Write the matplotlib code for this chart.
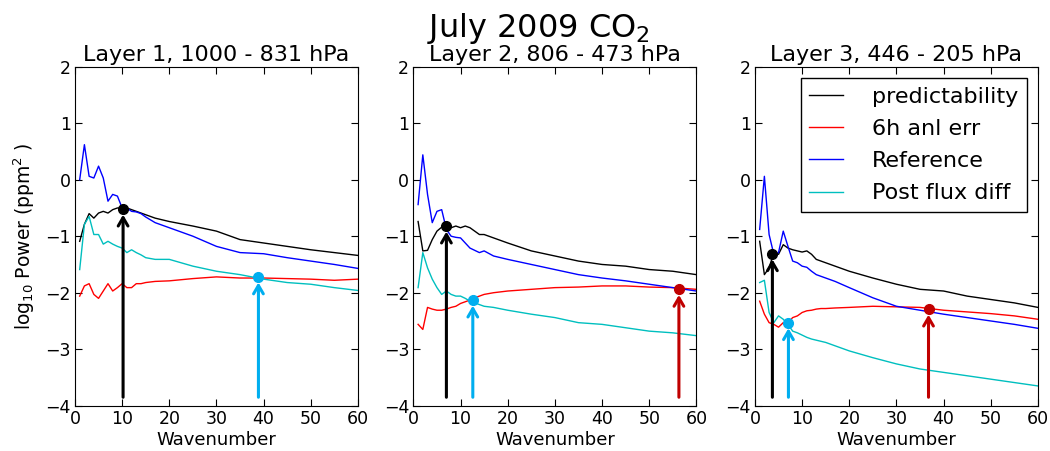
import numpy as np
import matplotlib
matplotlib.use("Agg")
import matplotlib.pyplot as plt

wn = [1, 2, 3, 4, 5, 6, 7, 8, 9, 10, 11, 12, 13, 14, 15, 17, 20, 25, 30, 35, 40, 45, 50, 55, 60]

# Layer 1
l1_pred = [-1.09, -0.79, -0.60, -0.68, -0.59, -0.56, -0.59, -0.53, -0.50, -0.50, -0.50, -0.53, -0.56, -0.59, -0.62, -0.68, -0.74, -0.82, -0.91, -1.06, -1.12, -1.18, -1.24, -1.29, -1.34]
l1_anl = [-2.06, -1.88, -1.84, -2.03, -2.10, -1.97, -1.84, -1.97, -1.91, -1.84, -1.91, -1.91, -1.84, -1.84, -1.82, -1.80, -1.79, -1.75, -1.72, -1.74, -1.74, -1.75, -1.76, -1.78, -1.76]
l1_ref = [0.00, 0.62, 0.06, 0.03, 0.24, 0.03, -0.38, -0.26, -0.29, -0.50, -0.50, -0.56, -0.57, -0.60, -0.66, -0.76, -0.85, -1.00, -1.18, -1.29, -1.31, -1.38, -1.44, -1.50, -1.57]
l1_post = [-1.59, -0.79, -0.65, -0.97, -0.97, -1.14, -1.09, -1.14, -1.18, -1.21, -1.29, -1.24, -1.29, -1.33, -1.38, -1.41, -1.41, -1.53, -1.62, -1.68, -1.76, -1.82, -1.85, -1.91, -1.96]

# Layer 2
l2_pred = [-0.74, -1.26, -1.25, -1.06, -0.91, -0.84, -0.82, -0.85, -0.82, -0.85, -0.82, -0.85, -0.91, -0.97, -0.97, -1.03, -1.12, -1.26, -1.35, -1.44, -1.50, -1.53, -1.59, -1.62, -1.68]
l2_anl = [-2.56, -2.65, -2.26, -2.29, -2.31, -2.31, -2.29, -2.26, -2.24, -2.19, -2.16, -2.13, -2.09, -2.06, -2.03, -2.00, -1.97, -1.94, -1.91, -1.90, -1.88, -1.88, -1.90, -1.91, -1.94]
l2_ref = [-0.44, 0.44, -0.26, -0.76, -0.56, -0.53, -0.88, -1.00, -1.02, -1.03, -1.12, -1.21, -1.25, -1.29, -1.26, -1.35, -1.41, -1.50, -1.59, -1.68, -1.74, -1.79, -1.85, -1.91, -1.97]
l2_post = [-1.91, -1.29, -1.56, -1.76, -1.91, -2.03, -1.97, -2.03, -2.06, -2.06, -2.10, -2.15, -2.18, -2.21, -2.24, -2.26, -2.31, -2.38, -2.44, -2.53, -2.56, -2.62, -2.68, -2.71, -2.76]

# Layer 3
l3_pred = [-1.09, -1.68, -1.56, -1.29, -1.32, -1.15, -1.21, -1.24, -1.26, -1.28, -1.26, -1.32, -1.41, -1.44, -1.47, -1.53, -1.62, -1.74, -1.85, -1.94, -1.97, -2.06, -2.12, -2.18, -2.26]
l3_anl = [-2.15, -2.38, -2.53, -2.56, -2.61, -2.53, -2.53, -2.44, -2.41, -2.35, -2.32, -2.31, -2.29, -2.28, -2.28, -2.27, -2.26, -2.24, -2.25, -2.26, -2.31, -2.34, -2.37, -2.41, -2.47]
l3_ref = [-0.88, 0.06, -0.97, -1.32, -1.29, -0.91, -1.18, -1.44, -1.47, -1.53, -1.55, -1.62, -1.68, -1.71, -1.74, -1.80, -1.91, -2.09, -2.24, -2.31, -2.38, -2.44, -2.50, -2.56, -2.63]
l3_post = [-1.82, -1.78, -2.35, -2.53, -2.41, -2.47, -2.56, -2.68, -2.71, -2.75, -2.79, -2.82, -2.84, -2.86, -2.88, -2.94, -3.03, -3.15, -3.26, -3.35, -3.41, -3.47, -3.53, -3.59, -3.65]

# Marked crossing points (x, y, colour) per layer
marks_x = [[10.2, 38.9], [7.0, 12.6, 56.3], [3.7, 7.1, 36.8]]
marks_y = [[-0.52, -1.72], [-0.82, -2.13, -1.94], [-1.31, -2.53, -2.29]]
marks_c = [["black", "#00AEEF"], ["black", "#00AEEF", "#C00000"], ["black", "#00AEEF", "#C00000"]]

titles = ["Layer 1, 1000 - 831 hPa", "Layer 2, 806 - 473 hPa", "Layer 3, 446 - 205 hPa"]
labels = ["predictability", "6h anl err", "Reference", "Post flux diff"]
colors = ["k", "r", "b", "c"]
data = [[l1_pred, l1_anl, l1_ref, l1_post],
        [l2_pred, l2_anl, l2_ref, l2_post],
        [l3_pred, l3_anl, l3_ref, l3_post]]

fig = plt.figure(figsize=(10.5, 4.51), dpi=100)
lefts = [0.0714, 0.3937, 0.719]
width = 0.2695
bottom = 0.1004
height = 0.7517

for i in range(3):
    ax = fig.add_axes([lefts[i], bottom, width, height])
    for series, c, lab in zip(data[i], colors, labels):
        ax.plot(wn, series, color=c, lw=1.0, label=lab)
    for mx, my, mc in zip(marks_x[i], marks_y[i], marks_c[i]):
        ax.annotate("", xy=(mx, my), xytext=(mx, -3.85),
                    arrowprops=dict(arrowstyle="->,head_length=0.6,head_width=0.35",
                                    color=mc, lw=2.2, shrinkA=0, shrinkB=4))
        ax.plot([mx], [my], "o", color=mc, markersize=7, zorder=5)
    ax.set_xlim(0, 60)
    ax.set_ylim(-4, 2)
    ax.set_xticks([0, 10, 20, 30, 40, 50, 60])
    ax.set_yticks([-4, -3, -2, -1, 0, 1, 2])
    ax.tick_params(direction="in", top=True, right=True, labelsize=12.5, length=5, pad=3)
    ax.set_title(titles[i], fontsize=16, pad=4)
    ax.set_xlabel("Wavenumber", fontsize=13, labelpad=2)
    if i == 0:
        ax.set_ylabel(r"log$_{10}$ Power (ppm$^2$ )", fontsize=13.5, labelpad=6)
    if i == 2:
        leg = ax.legend(loc="upper right", fontsize=16, handlelength=1.5,
                        fancybox=False, framealpha=1, borderpad=0.4,
                        handletextpad=1.3, labelspacing=0.55, borderaxespad=0.5)
        leg.get_frame().set_edgecolor("black")

fig.text(0.513, 0.975, r"July 2009 CO$_2$", fontsize=23, ha="center", va="top")
fig.savefig("out.png", dpi=100)
